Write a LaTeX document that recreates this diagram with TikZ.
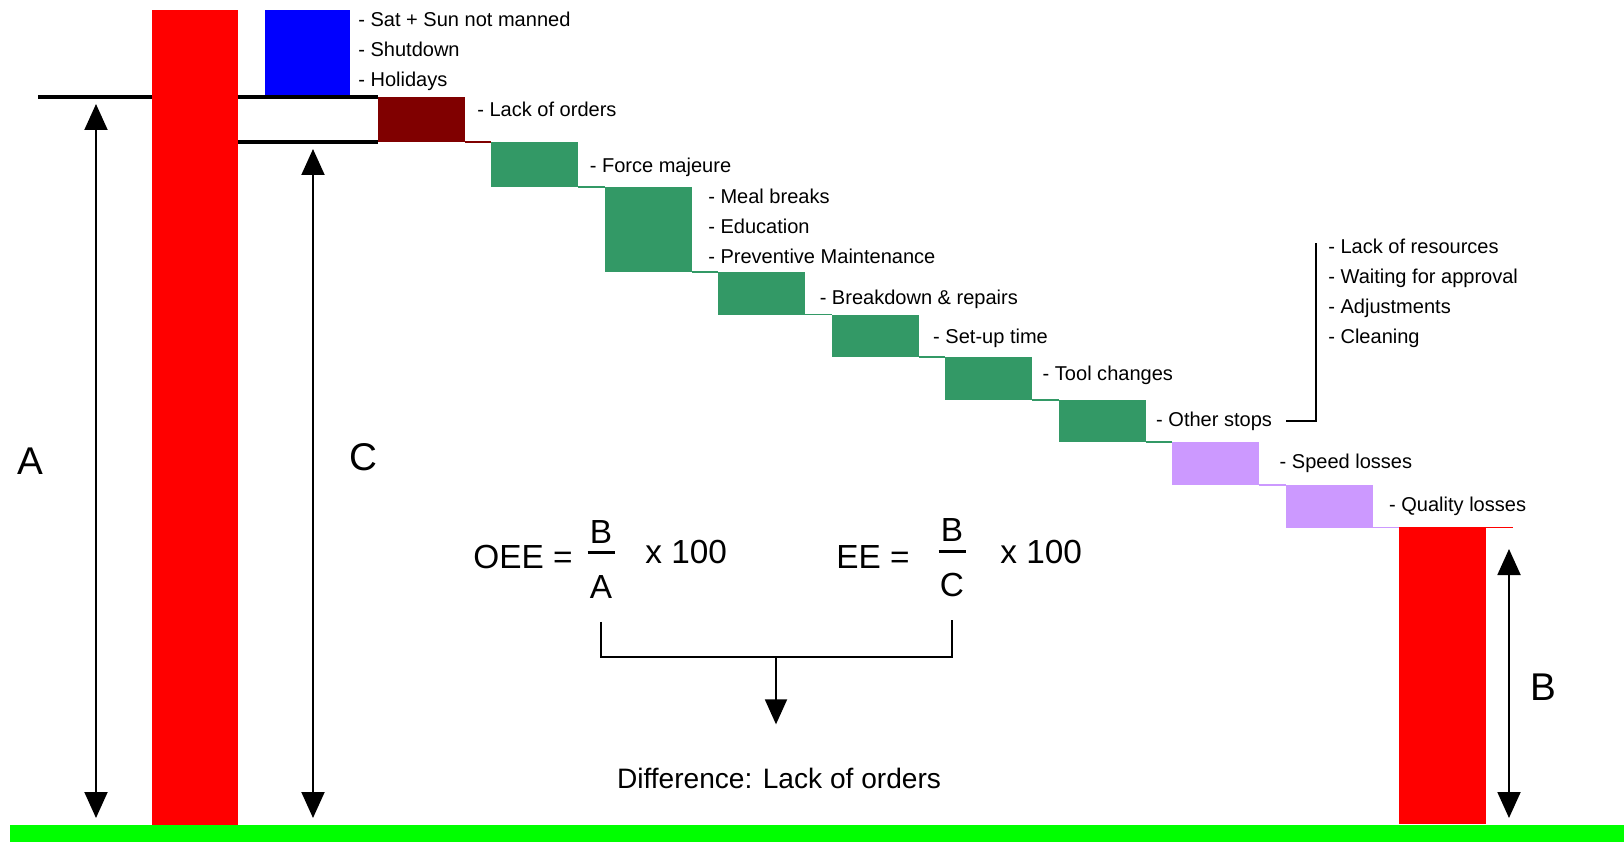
\documentclass[tikz,border=0pt]{standalone}
\usepackage{fontspec}
\setmainfont{Liberation Sans}
\usepackage{xcolor}
\usepackage{tikz}
\usetikzlibrary{arrows.meta, positioning}
\definecolor{barred}{RGB}{255,0,0}
\definecolor{calblue}{RGB}{0,0,255}
\definecolor{orderred}{RGB}{128,0,0}
\definecolor{stopgreen}{RGB}{51,153,102}
\definecolor{losslilac}{RGB}{204,153,255}
\definecolor{groundgreen}{RGB}{0,255,0}

\begin{document}
\begin{tikzpicture}[
          x=0.02cm, y=-0.02cm,
          bar/.style={
            rectangle, fill=#1, inner sep=0pt, outer sep=0pt,
            anchor=north west
          },
          loss/.style={
            bar=#1, minimum width=1.74cm, minimum height=0.852cm
          },
          link/.style={line width=1pt, color=#1},
          refline/.style={line width=2.4pt, color=black},
          dim/.style={
            {Triangle[width=0.46cm,length=0.52cm]}-{Triangle[width=0.46cm,length=0.52cm]},
            line width=1.1pt
          },
          pointer/.style={
            -{Triangle[width=0.44cm,length=0.5cm]}, line width=1.1pt
          },
          brace/.style={line width=1.1pt},
          fracbar/.style={line width=1.8pt},
          lbl/.style={inner sep=0pt, anchor=west, align=left,
            font=\fontsize{11.4}{17}\selectfont},
          dimlbl/.style={inner sep=0pt, font=\fontsize{22}{26}\selectfont},
          formula/.style={inner sep=0pt, font=\fontsize{19}{23}\selectfont}
        ]
          \useasboundingbox (0,0) rectangle (1624,842);

          \node[bar=barred, minimum width=1.72cm, minimum height=16.3cm] (total) at (152,10) {};
          \node[bar=calblue, minimum width=1.7cm, minimum height=1.74cm]  (cal)   at (265,10) {};
          \node[bar=orderred, minimum width=1.74cm, minimum height=0.9cm] (orders) at (378,97) {};
          \node[loss=stopgreen, minimum height=0.9cm] (force)   at ([xshift=0.53cm]orders.south east) {};
          \node[loss=stopgreen, minimum height=1.7cm] (meal)    at ([xshift=0.53cm]force.south east) {};
          \node[loss=stopgreen]                       (repair)  at ([xshift=0.53cm]meal.south east) {};
          \node[loss=stopgreen]                       (setup)   at ([xshift=0.53cm]repair.south east) {};
          \node[loss=stopgreen]                       (tool)    at ([xshift=0.53cm]setup.south east) {};
          \node[loss=stopgreen]                       (other)   at ([xshift=0.53cm]tool.south east) {};
          \node[loss=losslilac]                       (speed)   at ([xshift=0.53cm]other.south east) {};
          \node[loss=losslilac]                       (quality) at ([xshift=0.53cm]speed.south east) {};
          \node[bar=barred, minimum width=1.74cm, minimum height=5.94cm] (good) at ([xshift=0.53cm]quality.south east) {};
          \node[bar=groundgreen, minimum width=32.28cm, minimum height=0.34cm] (ground) at (10,825) {};

          \draw[link=orderred]  (orders.south east)  -- (force.north west);
          \draw[link=stopgreen] (force.south east)   -- (meal.north west);
          \draw[link=stopgreen] (meal.south east)    -- (repair.north west);
          \draw[link=stopgreen] (repair.south east)  -- (setup.north west);
          \draw[link=stopgreen] (setup.south east)   -- (tool.north west);
          \draw[link=stopgreen] (tool.south east)    -- (other.north west);
          \draw[link=stopgreen] (other.south east)   -- (speed.north west);
          \draw[link=losslilac] (speed.south east)   -- (quality.north west);
          \draw[link=losslilac] (quality.south east) -- (good.north west);
          \draw[link=barred]    (good.north west)    -- ([xshift=0.53cm]good.north east);

          \coordinate (aend) at (38,97);
          \draw[refline] (aend) -- (total.west |- orders.north);
          \draw[refline] (total.east |- orders.north) -- (orders.north west);
          \draw[refline] (total.east |- orders.south) -- (orders.south west);

          \coordinate (atop) at (96,104);
          \coordinate (abot) at (96,818);
          \coordinate (ctop) at (313,149);
          \coordinate (cbot) at (313,818);
          \coordinate (btop) at (1509,549);
          \coordinate (bbot) at (1509,818);
          \draw[dim] (atop) -- (abot);
          \draw[dim] (ctop) -- (cbot);
          \draw[dim] (btop) -- (bbot);
          \node[dimlbl] (alab) at (30,461)   {A};
          \node[dimlbl] (clab) at (363,457)  {C};
          \node[dimlbl] (blab) at (1543,687) {B};

          \node[lbl, anchor=north west] (callbl) at ([xshift=0.16cm,yshift=-0.04cm]cal.north east)
                {- Sat + Sun not manned\\- Shutdown\\- Holidays};
          \node[lbl] (orderlbl) at ([xshift=0.24cm,yshift=-0.24cm]orders.north east) {- Lack of orders};
          \node[lbl, right=0.22cm of force, yshift=-0.06cm] (forcelbl) {- Force majeure};
          \node[lbl, anchor=north west] (meallbl) at ([xshift=0.32cm,yshift=-0.03cm]meal.north east)
                {- Meal breaks\\- Education\\- Preventive Maintenance};
          \node[lbl, right=0.28cm of repair, yshift=-0.12cm] (repairlbl)  {- Breakdown \& repairs};
          \node[lbl, right=0.28cm of setup, yshift=-0.04cm]  (setuplbl)   {- Set-up time};
          \node[lbl, right=0.2cm of tool, yshift=0.06cm]     (toollbl)    {- Tool changes};
          \node[lbl, right=0.2cm of other]    (otherlbl)   {- Other stops};
          \node[lbl, right=0.4cm of speed]    (speedlbl)   {- Speed losses};
          \node[lbl, right=0.32cm of quality] (qualitylbl) {- Quality losses};
          \node[lbl, anchor=north west] (othersub) at (1328,239)
                {- Lack of resources\\- Waiting for approval\\- Adjustments\\- Cleaning};
          \draw[brace] ([xshift=0.28cm]otherlbl.east) -| ([xshift=-0.24cm,yshift=-0.08cm]othersub.north west);

          \node[formula, anchor=base east] (oee)  at (573,568) {OEE =};
          \node[formula]                   (oeeB) at (601,532) {B};
          \node[formula]                   (oeeA) at (601,587) {A};
          \node[formula, anchor=base west] (oeex) at (645,563) {x 100};
          \draw[fracbar] ([xshift=-0.27cm,yshift=-0.41cm]oeeB.center) -- ([xshift=0.27cm,yshift=-0.41cm]oeeB.center);

          \node[formula, anchor=base east] (ee)  at (910,568)  {EE =};
          \node[formula]                   (eeB) at (952,530)  {B};
          \node[formula]                   (eeC) at (952,585)  {C};
          \node[formula, anchor=base west] (eex) at (1000,563) {x 100};
          \draw[fracbar] ([xshift=-0.27cm,yshift=-0.43cm]eeB.center) -- ([xshift=0.27cm,yshift=-0.43cm]eeB.center);

          \node[inner sep=0pt, font=\fontsize{16}{19}\selectfont] (diff) at (779,778) {Difference: Lack of orders};
          \draw[brace] ([yshift=-0.46cm]oeeA.south) -- ++(0,35) -| ([yshift=-0.46cm]eeC.south);
          \coordinate (split) at (776,656);
          \draw[pointer, shorten >=0.86cm] (split) -- (split |- diff.north);
        \end{tikzpicture}
\end{document}
